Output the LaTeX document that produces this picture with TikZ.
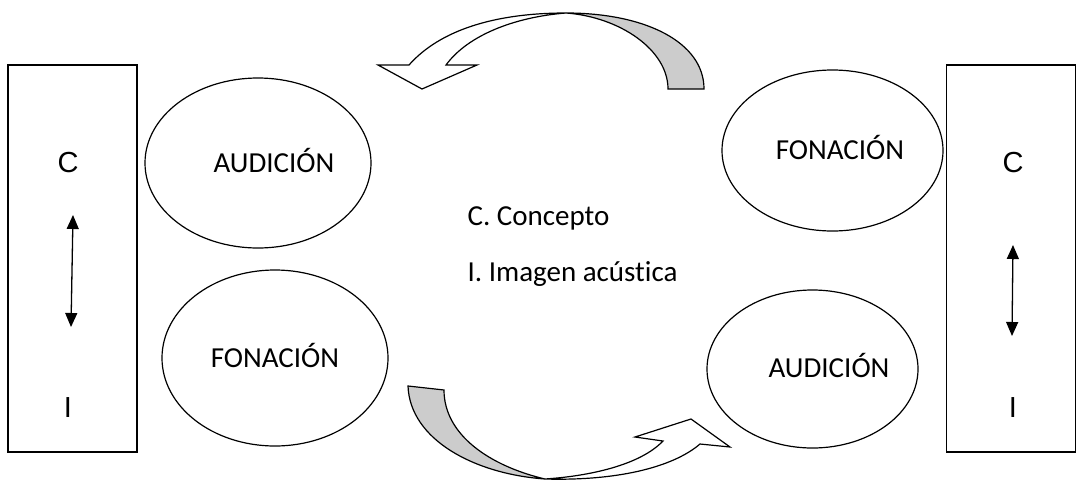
\documentclass[tikz,border=0pt]{standalone}
\usepackage{fontspec}
\setmainfont{Carlito}[RawFeature=-liga]
\newfontfamily\arialfont{Liberation Sans}
\usetikzlibrary{arrows.meta,shapes.geometric}

\begin{document}
\begin{tikzpicture}[x=1pt, y=-1pt, line width=1.2pt,
    box/.style={draw, minimum width=129pt, minimum height=387pt},
    oval/.style={draw, ellipse, inner sep=0pt},
    word/.style={anchor=base, inner sep=0pt, font=\fontsize{29}{34}\selectfont},
    letter/.style={font=\arialfont\fontsize{29}{34}\selectfont},
    legend/.style={anchor=base west, inner sep=0pt, font=\fontsize{29}{34}\selectfont},
    link/.style={{Triangle[length=14pt,width=12pt]}-{Triangle[length=14pt,width=12pt]}, line width=1.3pt}]
    \useasboundingbox (0,0) rectangle (1084,482);
    % left side
    \node[box](leftbox) at (72.5,258.5) {};
    \node[letter](c_l) at (68,163) {C};
    \node[letter](i_l) at (68,408) {I};
    \coordinate (l_top) at (73,215);
    \coordinate (l_bot) at (71,327);
    \draw[link] (l_top) -- (l_bot);
    \node[oval, minimum width=226pt, minimum height=170pt](aud_l) at (258,163) {};
    \node[word](aud_l_txt) at (274,172) {AUDICIÓN};
    \node[oval, minimum width=226pt, minimum height=176pt](fon_l) at (275,358) {};
    \node[word](fon_l_txt) at (275,367) {FONACIÓN};
    % right side
    \node[box](rightbox) at (1011,258.5) {};
    \node[letter](c_r) at (1013,163) {C};
    \node[letter](i_r) at (1013,408) {I};
    \coordinate (r_top) at (1013,245);
    \coordinate (r_bot) at (1012,336);
    \draw[link] (r_top) -- (r_bot);
    \node[oval, minimum width=221pt, minimum height=161pt](fon_r) at (832.5,150.5) {};
    \node[word](fon_r_txt) at (840,159) {FONACIÓN};
    \node[oval, minimum width=211pt, minimum height=158pt](aud_r) at (812.5,369) {};
    \node[word](aud_r_txt) at (829,377) {AUDICIÓN};
    % legend
    \node[legend](concepto) at (467,225) {C. Concepto};
    \node[legend](imagen) at (467,281) {I. Imagen acústica};
    % top curved arrow
    \draw[fill=black!20] (704,89) .. controls (704,42) and (645,13) .. (566,13)
        .. controls (620,17) and (668,50) .. (668,89) -- cycle;
    \draw[fill=white] (409,65) .. controls (440,30) and (495,13) .. (566,13)
        .. controls (515,17) and (468,35) .. (446,65) -- (477,65) -- (422,89) -- (378,65) -- cycle;
    % bottom curved arrow
    \draw[fill=black!20] (408,386) .. controls (410,440) and (475,474) .. (545,479)
        .. controls (490,466) and (444,435) .. (444,390) -- cycle;
    \draw[fill=white] (545,479) .. controls (615,481) and (672,468) .. (700,444)
        -- (730,447) -- (691,419) -- (635,437) -- (663,441)
        .. controls (640,465) and (590,476) .. (545,479) -- cycle;
\end{tikzpicture}
\end{document}
